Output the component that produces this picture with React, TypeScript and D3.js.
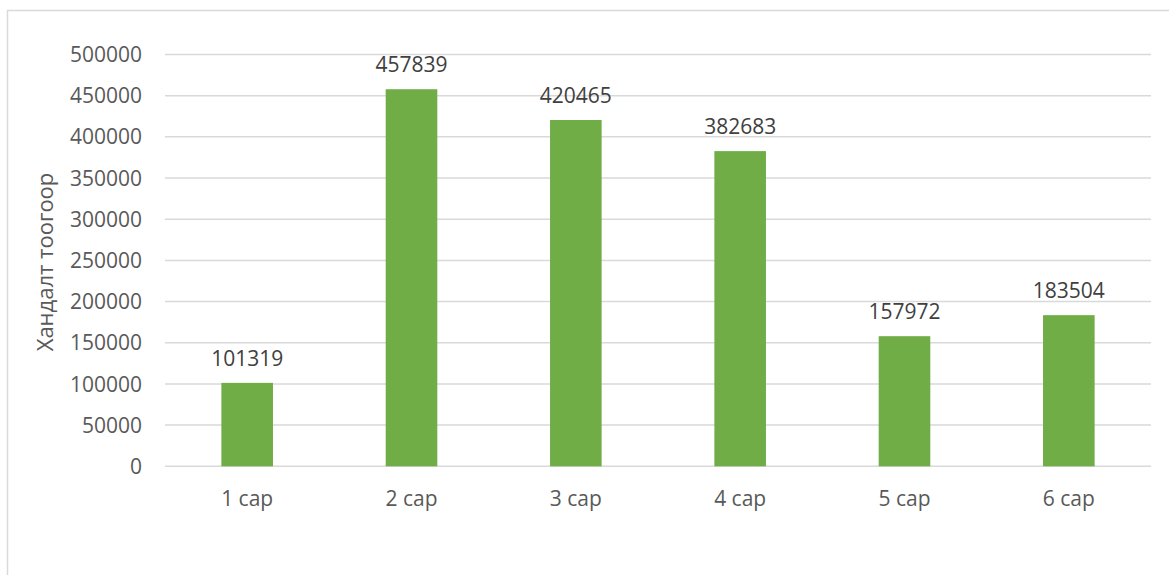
import { useMemo } from 'react'
import * as d3 from 'd3'

const months = ['1 сар', '2 сар', '3 сар', '4 сар', '5 сар', '6 сар']
const visits = [101319, 457839, 420465, 382683, 157972, 183504]
const yTicks = [0, 50000, 100000, 150000, 200000, 250000, 300000, 350000, 400000, 450000, 500000]
const yTitle = 'Хандалт тоогоор'

const width = 1169
const height = 575
const plot = { left: 165, right: 1151, top: 54.5, bottom: 466.3 }
const font = '"Open Sans", "Liberation Sans", sans-serif'

export default function App() {
  const { x, y } = useMemo(() => {
    const x = d3
      .scaleBand<string>()
      .domain(months)
      .range([plot.left, plot.right])
      .paddingInner(0.686)
      .paddingOuter(0.343)
    const y = d3.scaleLinear().domain([0, 500000]).range([plot.bottom, plot.top])
    return { x, y }
  }, [])

  return (
    <svg
      width={width}
      height={height}
      style={{ position: 'absolute', left: 0, top: 0, background: '#fff' }}
      fontFamily={font}
    >
      <rect x={7.5} y={10.5} width={1170} height={600} fill="#fff" stroke="#d9d9d9" strokeWidth={1.5} />

      <g className="grid">
        {yTicks.map((t) => (
          <line key={t} x1={plot.left} x2={plot.right} y1={y(t)} y2={y(t)} stroke="#d9d9d9" strokeWidth={1.5} />
        ))}
      </g>

      <g className="yLabels">
        {yTicks.map((t) => (
          <text key={t} x={142} y={y(t)} dy="0.36em" textAnchor="end" fontSize={21} fill="#595959">
            {t}
          </text>
        ))}
      </g>

      <text
        transform={`translate(53 ${262}) rotate(-90)`}
        textAnchor="middle"
        fontSize={22}
        fill="#595959"
      >
        {yTitle}
      </text>

      <g className="bars">
        {visits.map((v, i) => (
          <rect
            key={months[i]}
            x={x(months[i])}
            y={y(v)}
            width={x.bandwidth()}
            height={y(0) - y(v)}
            fill="#70ad47"
          />
        ))}
      </g>

      <g className="dataLabels">
        {visits.map((v, i) => (
          <text
            key={months[i]}
            x={(x(months[i]) ?? 0) + x.bandwidth() / 2}
            y={y(v) - 17}
            textAnchor="middle"
            fontSize={21}
            fill="#404040"
          >
            {v}
          </text>
        ))}
      </g>

      <g className="xLabels">
        {months.map((m) => (
          <text
            key={m}
            x={(x(m) ?? 0) + x.bandwidth() / 2}
            y={506}
            textAnchor="middle"
            fontSize={21}
            fill="#595959"
          >
            {m}
          </text>
        ))}
      </g>
    </svg>
  )
}
